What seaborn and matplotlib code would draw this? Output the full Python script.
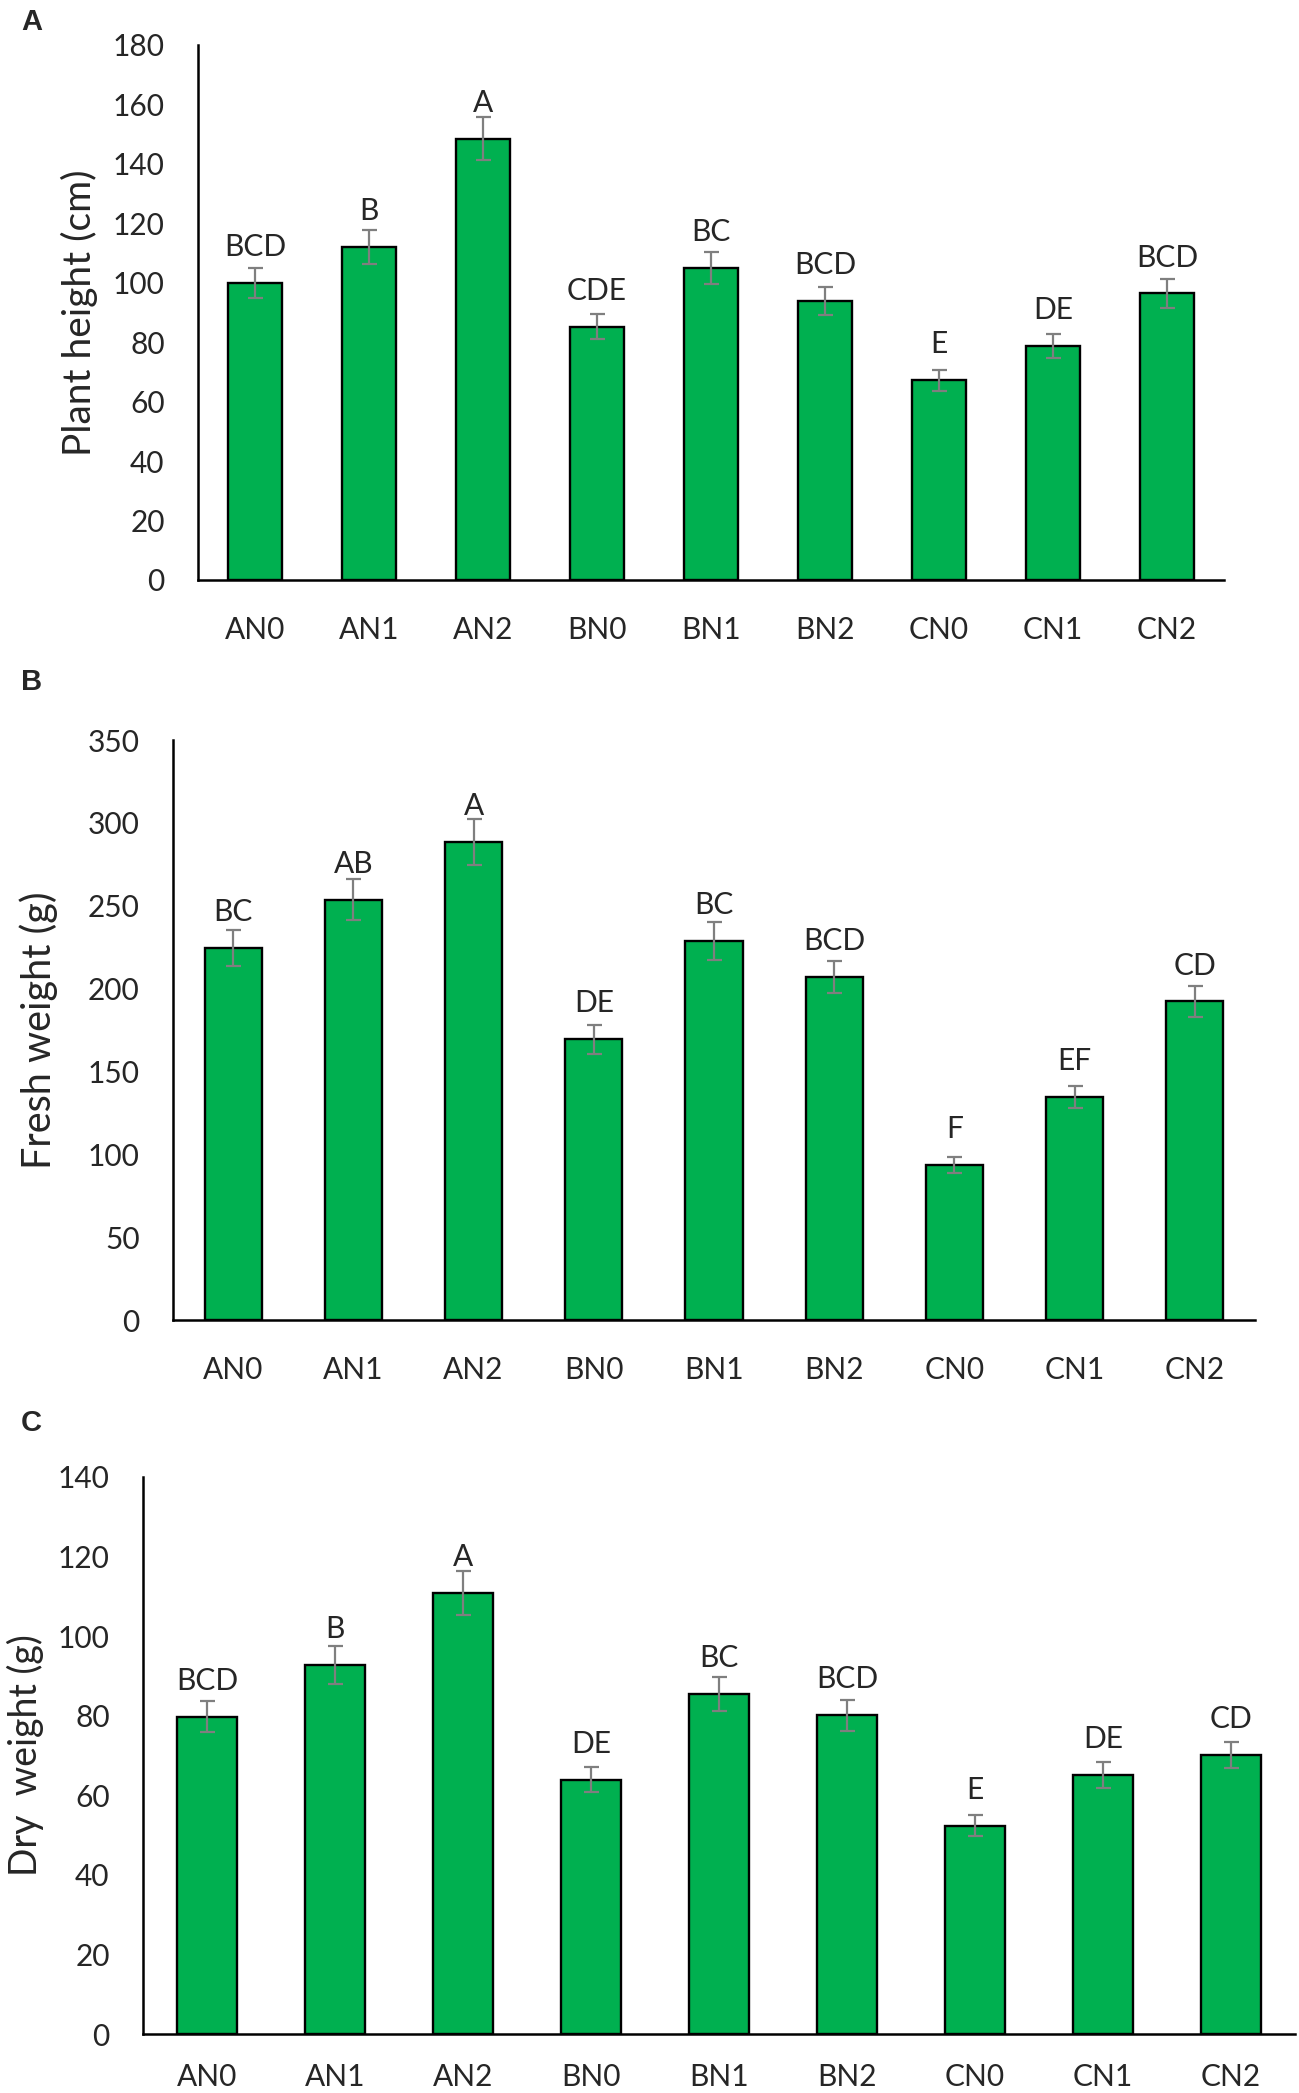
import matplotlib
matplotlib.use("Agg")
import matplotlib.pyplot as plt
import seaborn as sns

treatments = ['AN0', 'AN1', 'AN2', 'BN0', 'BN1', 'BN2', 'CN0', 'CN1', 'CN2']

height = [100.0, 112.0, 148.5, 85.2, 104.9, 93.9, 67.2, 78.7, 96.4]
height_err = [5.0, 5.7, 7.3, 4.2, 5.3, 4.6, 3.5, 3.9, 4.9]
height_letters = ['BCD', 'B', 'A', 'CDE', 'BC', 'BCD', 'E', 'DE', 'BCD']

fresh = [224.6, 253.7, 288.4, 169.4, 228.5, 207.2, 93.5, 134.8, 192.2]
fresh_err = [11.0, 12.3, 14.0, 8.6, 11.4, 9.7, 4.7, 6.6, 9.4]
fresh_letters = ['BC', 'AB', 'A', 'DE', 'BC', 'BCD', 'F', 'EF', 'CD']

dry = [79.8, 92.7, 110.8, 63.9, 85.5, 80.1, 52.4, 65.1, 70.2]
dry_err = [3.8, 4.7, 5.6, 3.1, 4.2, 3.9, 2.7, 3.3, 3.3]
dry_letters = ['BCD', 'B', 'A', 'DE', 'BC', 'BCD', 'E', 'DE', 'CD']

sns.set_style("white")
plt.rcParams['font.family'] = ['Lato', 'DejaVu Sans']

W, H = 1299, 2093
fig = plt.figure(figsize=(W / 100, H / 100), dpi=100)

GREEN = '#00B050'
GREY = '#7F7F7F'

# panel boxes in pixels: left, right, top, bottom
panels = [
    ('A', height, height_err, height_letters, 'Plant height (cm)', (198, 1224, 45, 580), 180, 20, 28, 79, 8, 26),
    ('B', fresh, fresh_err, fresh_letters, 'Fresh weight (g)', (173, 1255, 740, 1320), 350, 50, 28.5, 39, 668, 26),
    ('C', dry, dry_err, dry_letters, 'Dry  weight (g)', (143, 1295, 1477, 2034), 140, 20, 27, 25, 1409, 21),
]

for tag, vals, errs, letters, ylabel, box, ymax, step, lab_fs, lab_x, tag_y, xpad in panels:
    l, r, t, b = box
    ax = fig.add_axes([l / W, 1 - b / H, (r - l) / W, (b - t) / H])
    sns.barplot(x=treatments, y=vals, color=GREEN, edgecolor='black',
                linewidth=1.7, width=0.475, saturation=1, errorbar=None, ax=ax)
    ax.errorbar(range(len(treatments)), vals, yerr=errs, fmt='none',
                ecolor=GREY, elinewidth=1.6, capsize=5.4, capthick=1.6)
    for i, (v, let) in enumerate(zip(vals, letters)):
        ax.annotate(let, (i, v), xytext=(0, 19.4), textcoords='offset points',
                    ha='center', va='baseline', fontsize=21.5)
    ax.set_xlim(-0.5, len(treatments) - 0.5)
    ax.set_ylim(0, ymax)
    ax.set_yticks(range(0, ymax + 1, step))
    ax.tick_params(axis='y', length=0, pad=24, labelsize=21.5)
    ax.tick_params(axis='x', length=0, pad=xpad, labelsize=21.5)
    ax.set_xlabel('')
    ax.set_ylabel('')
    sns.despine(ax=ax)
    for s in ['left', 'bottom']:
        ax.spines[s].set_linewidth(1.8)
        ax.spines[s].set_color('black')
    fig.text(lab_x / W, 1 - ((t + b) / 2) / H, ylabel, rotation=90,
             ha='center', va='center', fontsize=lab_fs)
    fig.text(21 / W, 1 - tag_y / H, tag, ha='left', va='top',
             fontsize=21, fontweight='bold', family=['Liberation Sans', 'DejaVu Sans'])

fig.savefig('out.png', dpi=100)
